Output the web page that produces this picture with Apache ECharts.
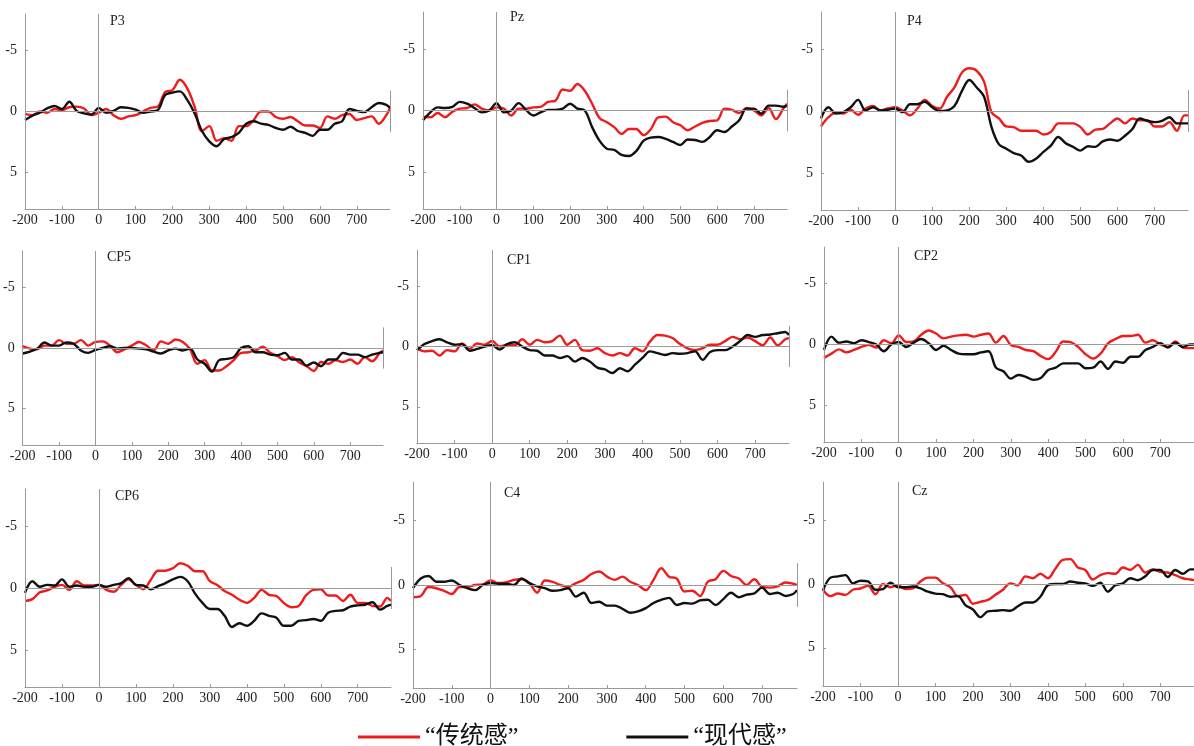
<!DOCTYPE html>
<html>
<head>
<meta charset="utf-8">
<script src="https://cdn.jsdelivr.net/npm/echarts@6/dist/echarts.min.js"></script>
<style>
html,body{margin:0;padding:0;background:#fff;}
#chart{width:1194px;height:746px;}
</style>
</head>
<body>
<div id="chart"></div>
<script>
// ---- data ----
const times = [-200,-180,-160,-140,-120,-100,-80,-60,-40,-20,0,20,40,60,80,100,120,140,160,180,200,220,240,260,280,300,320,340,360,380,400,420,440,460,480,500,520,540,560,580,600,620,640,660,680,700,720,740,760,780,790];
const xTicks = [-200,-100,0,100,200,300,400,500,600,700];
const yTicks = [-5,0,5];
const panelNames = ['P3','Pz','P4','CP5','CP1','CP2','CP6','C4','Cz'];
const seriesNames = ['“传统感”','“现代感”'];
const endBar = 1.7;

const trad_P3 = [0.2,0.3,0,0.1,-0.2,-0.1,-0.35,-0.4,-0.25,0.3,0.1,-0.2,0.3,0.6,0.4,0.3,0,-0.3,-0.4,-1.6,-1.75,-2.6,-1.9,-0.4,1.6,1.2,2.4,2.2,2.4,1.2,1.2,0.7,0,0,0.45,0.6,0.45,0.8,1.15,1.15,1.35,0.4,0.6,0.3,0.2,0.7,0.55,0.4,1.0,0.3,-0.3];
const mod_P3 = [0.7,0.35,0.1,-0.25,-0.45,-0.2,-0.8,-0.05,0.15,0.25,-0.3,0.1,-0.05,-0.35,-0.3,-0.15,0.1,0,-0.1,-1.35,-1.55,-1.65,-0.95,0.15,1.6,2.45,2.85,2.25,2.1,1.75,1.0,0.8,1.0,1.1,1.35,1.5,1.25,1.6,1.75,2.0,1.5,1.5,1.0,0.8,-0.2,-0.05,0.05,-0.35,-0.7,-0.55,-0.3];

const trad_Pz = [0.5,0.55,0.2,0.55,0.1,-0.15,-0.2,-0.5,-0.15,0,-0.25,-0.15,0.4,-0.15,-0.15,-0.25,-0.3,-0.7,-0.8,-1.7,-1.6,-2.15,-1.6,-0.55,0.6,0.95,1.35,1.9,1.5,1.5,2.0,1.5,0.55,0.5,0.95,1.2,1.6,1.3,1.0,0.85,0.8,-0.15,-0.05,0.2,-0.2,0,0.4,-0.2,0.7,-0.15,-0.55];
const mod_Pz = [0.8,0.15,-0.25,-0.2,-0.3,-0.7,-0.55,-0.2,0.15,0,-0.6,0.15,0,-0.6,-0.05,0.4,0.15,-0.05,-0.05,-0.15,-0.55,-0.15,0,1.35,2.45,3.1,3.2,3.6,3.7,3.3,2.45,2.2,2.15,2.3,2.55,2.8,2.35,2.4,2.55,2.15,1.6,1.75,1.3,0.8,-0.15,-0.15,0.25,-0.4,-0.4,-0.3,-0.4];

const trad_P4 = [1.25,0.5,0.15,0.2,-0.1,0.3,-0.2,-0.4,-0.05,-0.2,-0.3,-0.05,0.35,-0.2,-0.9,-0.4,-0.2,-1.15,-1.9,-3.1,-3.45,-3.25,-2.35,0.1,0.6,1.25,1.3,1.6,1.6,1.6,1.9,1.7,1.0,1.0,1.0,1.3,1.9,1.5,1.45,1.0,0.6,1.0,0.6,0.75,0.75,1.25,1.25,0.9,1.6,0.35,0.35];
const mod_P4 = [0.6,-0.3,0.2,0.1,-0.3,-0.9,-0.05,-0.3,-0.05,-0.1,-0.2,0.1,-0.55,-0.55,-0.75,-0.3,0,-0.05,-0.4,-1.6,-2.5,-1.9,-1.15,1.3,2.7,3.05,3.4,3.6,4.1,3.85,3.3,2.8,2.1,2.6,2.9,3.2,2.85,2.9,2.45,2.3,2.4,2.0,1.45,0.6,0.8,0.9,0.8,0.5,1.0,1.0,1.0];

const trad_CP5 = [-0.15,0.05,0.1,-0.2,-0.2,-0.65,-0.35,-0.35,-0.65,-0.2,-0.5,-0.55,-0.2,0.35,0.1,-0.2,-0.5,-0.2,0.2,-0.55,-0.35,-0.7,-0.5,0.1,1.3,1.0,1.85,1.85,1.5,1.0,0.4,0.35,0.2,-0.1,0.4,0.65,1.0,0.75,1.2,1.5,1.9,1.15,1.3,1.0,1.15,0.95,1.3,0.75,1.1,0.45,0.2];
const mod_CP5 = [0.45,0.3,0.05,-0.45,-0.2,-0.2,-0.45,-0.35,0.2,0.4,0.15,0,-0.15,0.05,0,0,0.05,0.1,0.3,0.45,0.2,0.05,0.2,0.05,0.95,1.3,1.95,1.0,0.9,0.75,0.0,-0.15,0.35,0.35,0.55,0.6,0.4,0.95,0.95,1.45,1.2,1.5,0.95,0.95,0.4,0.55,0.55,0.75,0.55,0.4,0.35];

const trad_CP1 = [0.15,0.4,0.35,0.75,0.3,0.4,-0.25,0.2,-0.25,-0.15,-0.45,0,-0.15,-0.1,-0.6,-0.15,-0.55,-0.35,-0.45,-0.9,-0.15,-0.55,0.3,0.35,0.15,0.55,0.75,0.55,0.75,0.15,0.4,-0.4,-0.95,-0.9,-0.7,-0.2,0.15,0.3,0.15,-0.15,-0.15,-0.45,-0.8,-0.6,-0.75,-0.45,-0.1,-0.75,-0.1,-0.6,-0.7];
const mod_CP1 = [0.3,-0.2,-0.45,-0.6,-0.35,-0.15,-0.2,0.35,0.2,0,-0.1,0.25,-0.2,-0.35,0,0.3,0.35,0.75,0.75,0.95,0.8,1.25,0.95,1.25,1.75,1.9,2.2,1.8,2.05,1.5,0.95,0.4,0.55,0.7,0.55,0.6,0.55,0.4,1.1,0.45,0.3,0.3,0,-0.45,-0.95,-0.8,-0.95,-1.0,-1.1,-1.2,-0.95];

const trad_CP2 = [1.1,0.75,0.4,0.65,0.45,0.2,0.05,0.25,-0.35,-0.1,-0.75,-0.2,-0.25,-0.8,-1.15,-0.9,-0.5,-0.65,-0.75,-0.8,-0.65,-0.8,-0.9,-0.15,-0.7,0.05,0.2,0.45,0.55,0.95,1.2,0.6,-0.25,-0.2,0.2,0.8,1.15,0.75,-0.1,-0.45,-0.7,-0.7,-0.8,-0.15,-0.35,0,0.2,-0.25,0.25,0.3,0.3];
const mod_CP2 = [0.45,-0.65,-0.15,-0.25,-0.1,-0.35,-0.2,0,0.55,0,-0.2,0.2,-0.15,-0.45,-0.1,0.45,0.1,0.45,0.75,0.8,0.8,0.65,0.55,1.9,2.2,2.8,2.5,2.65,2.9,2.75,2.1,1.9,1.55,1.55,1.55,1.95,1.9,1.4,2.0,1.4,1.5,1.0,1.0,0.45,0.2,-0.1,0.25,-0.15,0.2,0,0];

const trad_CP6 = [1.05,0.9,0.35,0.2,-0.1,-0.25,0.15,-0.55,-0.2,-0.2,-0.25,0.15,0.3,-0.25,-0.7,-0.25,0.1,-0.65,-1.4,-1.4,-1.6,-2.0,-1.8,-1.35,-1.35,-0.55,-0.25,0.25,0.55,0.95,1.2,0.8,0.15,0.55,0.65,1.2,1.55,1.45,0.6,0.15,0.1,0.6,0.6,1.05,0.55,1.2,1.2,1.45,1.5,0.8,1.05];
const mod_CP6 = [0.4,-0.55,-0.1,-0.25,-0.2,-0.7,-0.1,-0.2,-0.1,-0.1,-0.25,-0.1,-0.25,-0.4,-0.8,-0.25,-0.2,0.1,-0.15,-0.4,-0.7,-0.9,-0.55,0.45,1.2,1.7,1.7,2.25,3.15,2.85,3.05,2.65,2.05,2.25,2.4,3.05,3.05,2.65,2.6,2.5,2.65,2.0,1.85,1.8,1.5,1.4,1.35,1.15,1.75,1.45,1.35];

const trad_C4 = [0.95,0.85,0.15,0.25,0.45,0.7,0.15,0.15,0,-0.05,-0.35,-0.15,-0.2,-0.4,-0.45,-0.15,0.6,-0.35,-0.25,0,0.15,-0.15,-0.4,-0.85,-1.05,-0.65,-0.4,-0.65,-0.25,0,0.4,-0.4,-1.3,-0.65,-0.5,0.5,0.45,0.85,-0.25,-0.45,-1.1,-0.7,-0.5,0,-0.45,0.15,0.2,0.1,-0.2,-0.1,0];
const mod_C4 = [0.25,-0.5,-0.7,-0.25,-0.25,-0.35,0,0.25,0.4,0,-0.15,-0.1,-0.1,0,-0.5,-0.15,0.1,0.25,0.45,0.4,0.25,0.9,0.6,1.4,1.3,1.6,1.6,1.85,2.15,2.05,1.8,1.4,1.15,1.0,1.55,1.4,1.45,1.2,1.15,1.55,1.1,0.6,0.95,0.75,0.65,0.2,0.7,0.6,0.85,0.7,0.4];

const trad_Cz = [0.45,0.95,0.75,0.85,0.45,0.35,0.15,0.8,0,0.25,0.1,0.4,0.35,-0.2,-0.5,-0.5,-0.05,0.25,0.95,0.85,1.55,1.4,1.25,0.85,0.45,-0.05,0.1,-0.6,-0.45,-0.8,-0.45,-1.2,-1.9,-1.95,-1.3,-1.1,-0.35,-0.7,-0.85,-0.8,-1.3,-1.1,-1.5,-0.9,-1.15,-0.95,-0.9,-0.7,-0.45,-0.35,-0.3];
const mod_Cz = [0.5,-0.5,-0.6,-0.7,-0.05,-0.25,-0.2,0.45,0.4,-0.1,0.25,0.25,0.2,0.35,0.6,0.75,0.8,1.0,0.95,1.65,2.0,2.6,2.15,2.1,2.05,2.1,1.75,1.45,1.45,1.0,0.1,0,0,-0.2,-0.1,-0.05,0.15,-0.1,0.6,0.1,-0.05,-0.45,-0.3,-0.6,-1.1,-1.1,-0.55,-1.1,-0.8,-1.15,-1.15];

const tradSets = [trad_P3,trad_Pz,trad_P4,trad_CP5,trad_CP1,trad_CP2,trad_CP6,trad_C4,trad_Cz];
const modSets = [mod_P3,mod_Pz,mod_P4,mod_CP5,mod_CP1,mod_CP2,mod_CP6,mod_C4,mod_Cz];

// ---- layout (pixels) ----
const layout = [
  {l:25, t:14, w:365, h:195, lx:110, ly:14},
  {l:423, t:12, w:364, h:197, lx:510, ly:10},
  {l:821, t:12, w:367, h:198, lx:907, ly:14},
  {l:22, t:251, w:361, h:194, lx:107, ly:250},
  {l:417, t:250, w:372, h:193, lx:507, ly:253},
  {l:824, t:247, w:375, h:195, lx:914, ly:249},
  {l:25, t:489, w:366, h:198, lx:115, ly:489},
  {l:413, t:482, w:384, h:206, lx:504, ly:486},
  {l:823, t:482, w:377, h:204, lx:912, ly:484}
];

const RED = '#ee1c1c', BLACK = '#111111', AXIS = '#9a9a9a';
const serif = "'Liberation Serif','Times New Roman',serif";

const grids = [], xAxes = [], yAxes = [], series = [], titles = [];
layout.forEach((p, i) => {
  grids.push({left:p.l, top:p.t, width:p.w, height:p.h, containLabel:false});
  xAxes.push({
    type:'value', gridIndex:i, min:-200, max:790,
    axisLine:{show:true, onZero:false, lineStyle:{color:AXIS, width:1}},
    axisTick:{show:true, inside:true, length:3, customValues:xTicks, lineStyle:{color:AXIS}},
    axisLabel:{customValues:xTicks, margin:4, color:'#222', fontFamily:serif, fontSize:14},
    splitLine:{show:false}
  });
  yAxes.push({
    type:'value', gridIndex:i, min:-8, max:8, inverse:true,
    axisLine:{show:true, onZero:false, lineStyle:{color:AXIS, width:1}},
    axisTick:{show:true, inside:true, length:3, customValues:yTicks, lineStyle:{color:AXIS}},
    axisLabel:{customValues:yTicks, margin:8, color:'#222', fontFamily:serif, fontSize:14},
    splitLine:{show:false}
  });
  titles.push({text:panelNames[i], left:p.lx, top:p.ly, padding:0,
    textStyle:{fontFamily:serif, fontSize:14, fontWeight:'normal', color:'#222'}});
  // reference lines
  series.push({
    type:'line', name:'ref'+i, xAxisIndex:i, yAxisIndex:i, data:[], silent:true, z:1,
    markLine:{
      silent:true, symbol:'none', animation:false, label:{show:false},
      lineStyle:{color:AXIS, width:1, type:'solid'},
      data:[
        [{coord:[-200,0]},{coord:[790,0]}],
        [{coord:[0,-8]},{coord:[0,8]}],
        [{coord:[-200,-endBar]},{coord:[-200,endBar]}],
        [{coord:[790,-endBar]},{coord:[790,endBar]}]
      ]
    }
  });
  series.push({
    type:'line', name:seriesNames[0], xAxisIndex:i, yAxisIndex:i, z:3,
    data: times.map((t,k)=>[t, tradSets[i][k]]),
    showSymbol:false, smooth:0.35, lineStyle:{color:RED, width:2.4}, itemStyle:{color:RED}
  });
  series.push({
    type:'line', name:seriesNames[1], xAxisIndex:i, yAxisIndex:i, z:4,
    data: times.map((t,k)=>[t, modSets[i][k]]),
    showSymbol:false, smooth:0.35, lineStyle:{color:BLACK, width:2.4}, itemStyle:{color:BLACK}
  });
});

const chart = echarts.init(document.getElementById('chart'), null, {renderer:'canvas'});
chart.setOption({
  animation:false,
  backgroundColor:'#fff',
  title:titles,
  grid:grids, xAxis:xAxes, yAxis:yAxes, series:series,
  legend:{
    data:seriesNames, left:358, top:725, padding:0, icon:'rect', itemWidth:62, itemHeight:3, itemGap:108,
    textStyle:{fontSize:24, color:'#111', fontFamily:"'Liberation Serif','Noto Sans CJK SC',serif"}
  }
});
</script>
</body>
</html>
